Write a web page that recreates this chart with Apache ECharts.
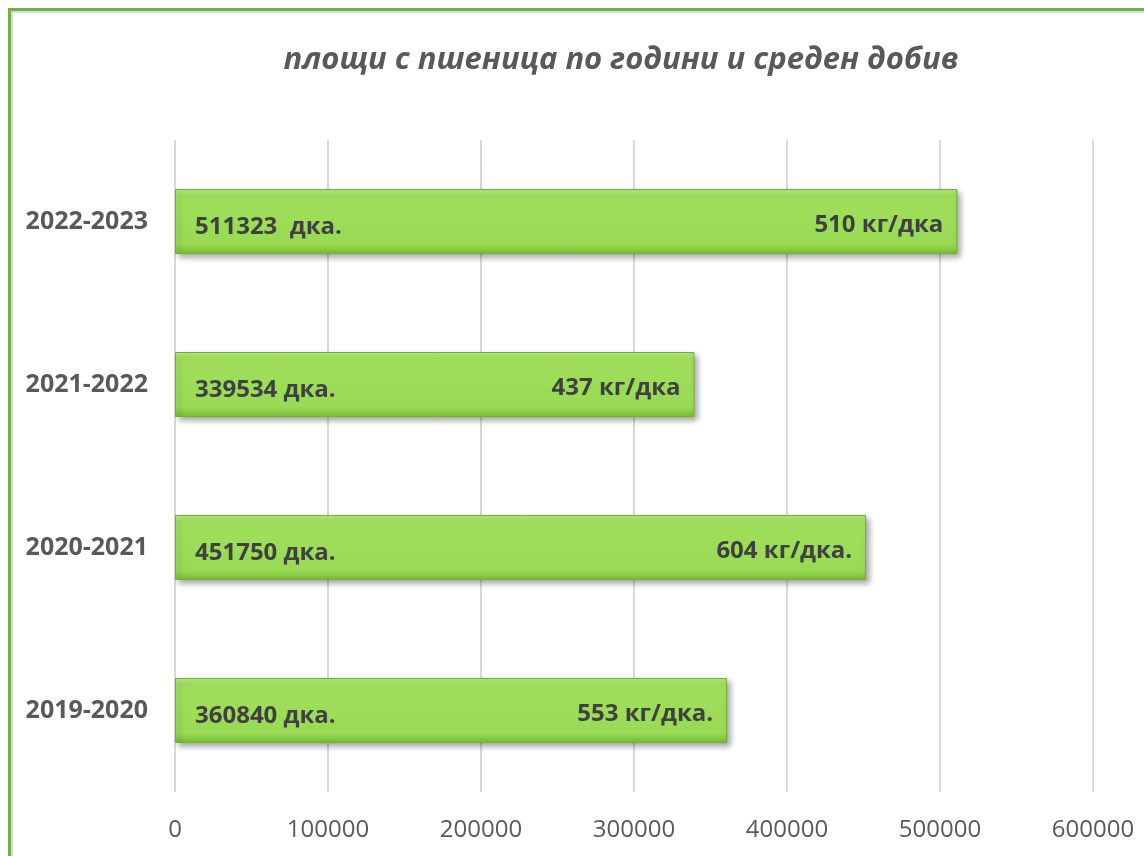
<!DOCTYPE html>
<html>
<head>
<meta charset="utf-8">
<script src="https://cdn.jsdelivr.net/npm/echarts@6/dist/echarts.min.js"></script>
<style>
  html, body { margin: 0; padding: 0; background: #fff; overflow: hidden; }
  #frame {
    position: absolute; left: 8px; top: 8px; width: 1200px; height: 900px;
    border-top: 3px solid #70ad47; border-left: 3px solid #70ad47;
    box-shadow: inset 2px 2px 0 #d9d9d9;
  }
  #chart { position: absolute; left: 0; top: 0; width: 1144px; height: 856px; }
</style>
</head>
<body>
<div id="frame"></div>
<div id="chart"></div>
<script>
// seasons, bottom to top as in the picture
const seasons = ['2019-2020', '2020-2021', '2021-2022', '2022-2023']
// wheat area, decares
const areaValues = [360840, 451750, 339534, 511323]
const areaLabels = ['360840 дка.', '451750 дка.', '339534 дка.', '511323  дка.']
// average yield labels
const yieldLabels = ['553 кг/дка.', '604 кг/дка.', '437 кг/дка', '510 кг/дка']
const xTicks = [0, 100000, 200000, 300000, 400000, 500000, 600000]

const textColor = '#595959'
const font = '"Open Sans", "Noto Sans", sans-serif'

const chart = echarts.init(document.getElementById('chart'), null, { renderer: 'canvas' })

const barFill = new echarts.graphic.LinearGradient(0, 0, 0, 1, [
  { offset: 0, color: '#b6eb80' },
  { offset: 0.12, color: '#a0df5c' },
  { offset: 0.85, color: '#99da54' },
  { offset: 1, color: '#79bc37' }
])

chart.setOption({
  animation: false,
  title: {
    text: 'площи с пшеница по години и среден добив',
    left: 616,
    top: 40,
    textAlign: 'center',
    textStyle: {
      fontFamily: font,
      fontStyle: 'italic',
      fontWeight: 'bold',
      fontSize: 31,
      color: textColor
    }
  },
  grid: { left: 175, right: 51, top: 140, bottom: 64 },
  xAxis: {
    type: 'value',
    min: xTicks[0],
    max: xTicks[xTicks.length - 1],
    interval: xTicks[1] - xTicks[0],
    axisLine: { show: false },
    axisTick: { show: false },
    splitLine: { lineStyle: { color: '#d9d9d9', width: 2 } },
    axisLabel: {
      margin: 26,
      formatter: v => String(v),
      fontFamily: font,
      fontSize: 24,
      color: textColor
    }
  },
  yAxis: {
    type: 'category',
    data: seasons,
    axisLine: { show: false },
    axisTick: { show: false },
    axisLabel: {
      margin: 27,
      fontFamily: font,
      fontWeight: 'bold',
      fontSize: 25,
      color: textColor
    }
  },
  series: [
    {
      type: 'bar',
      data: areaValues,
      barWidth: 65,
      itemStyle: {
        color: barFill,
        borderColor: '#72b134',
        borderWidth: 1,
        shadowColor: 'rgba(0,0,0,0.35)',
        shadowBlur: 6,
        shadowOffsetX: 3,
        shadowOffsetY: 3
      },
      label: {
        show: true,
        position: 'insideLeft',
        distance: 20,
        offset: [0, 6],
        formatter: p => areaLabels[p.dataIndex],
        fontFamily: font,
        fontWeight: 'bold',
        fontSize: 24,
        color: '#404040'
      },
      z: 2
    },
    {
      type: 'bar',
      data: areaValues,
      barWidth: 65,
      barGap: '-100%',
      itemStyle: { color: 'rgba(0,0,0,0)' },
      label: {
        show: true,
        position: 'insideRight',
        distance: 14,
        offset: [0, 4],
        formatter: p => yieldLabels[p.dataIndex],
        fontFamily: font,
        fontWeight: 'bold',
        fontSize: 24,
        color: '#404040'
      },
      silent: true,
      z: 3
    }
  ]
})
</script>
</body>
</html>
